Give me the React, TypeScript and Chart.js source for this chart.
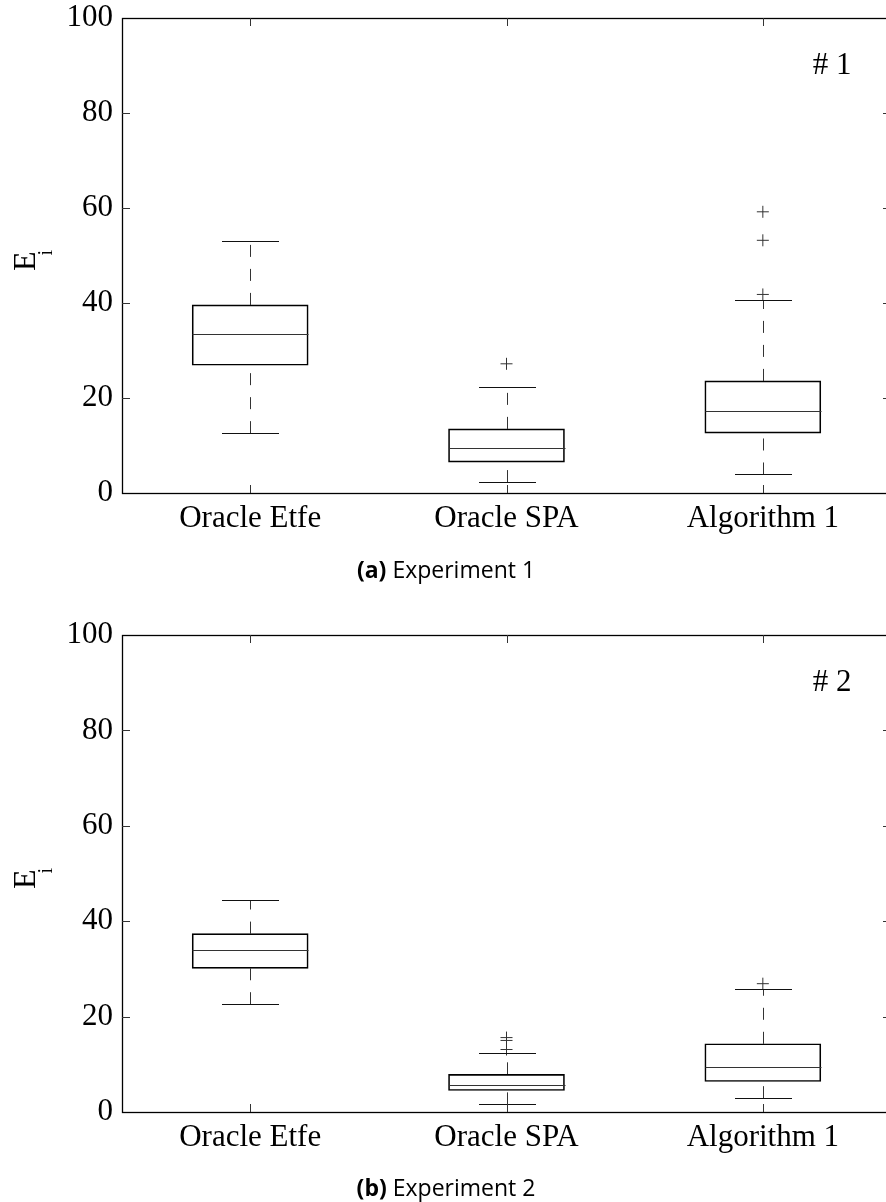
import React, { useEffect, useRef } from 'react';
import { Chart, registerables } from 'chart.js';

Chart.register(...registerables);

// ---- data ----
const categories = ['Oracle Etfe', 'Oracle SPA', 'Algorithm 1'];
const yTicks = [0, 20, 40, 60, 80, 100];

const exp1Low = [12.6, 2.3, 3.9];
const exp1Q1 = [26.9, 6.5, 12.6];
const exp1Median = [33.5, 9.4, 17.3];
const exp1Q3 = [39.6, 13.5, 23.6];
const exp1High = [53.0, 22.4, 40.6];
const exp1Outliers: number[][] = [[], [27.2], [41.8, 53.2, 59.2]];

const exp2Low = [22.6, 1.6, 2.9];
const exp2Q1 = [30.1, 4.5, 6.4];
const exp2Median = [34.0, 5.7, 9.5];
const exp2Q3 = [37.4, 7.9, 14.3];
const exp2High = [44.4, 12.4, 25.7];
const exp2Outliers: number[][] = [[], [13.1, 15.0, 15.6], [26.9]];

const SERIF = '"Liberation Serif", "Times New Roman", serif';

type PanelProps = {
  top: number;
  canvasHeight: number;
  plotBottom: number;
  low: number[];
  q1: number[];
  med: number[];
  q3: number[];
  high: number[];
  outliers: number[][];
  tag: string;
};

function BoxPanel(props: PanelProps) {
  const ref = useRef<HTMLCanvasElement>(null);
  useEffect(() => {
    const { low, q1, med, q3, high, outliers, tag, canvasHeight, plotBottom } = props;
    const canvas = ref.current as HTMLCanvasElement;
    const outlierPoints: { x: string; y: number }[] = [];
    outliers.forEach((arr, i) => arr.forEach((v) => outlierPoints.push({ x: categories[i], y: v })));

    const BOX_HALF = 58;
    const CAP_HALF = 28.5;
    const TICK = 8;

    const decor = {
      id: 'decor',
      beforeDatasetsDraw(chart: any) {
        const { ctx, scales } = chart;
        const xs = scales.x;
        const ys = scales.y;
        ctx.save();
        ctx.lineWidth = 1;
        ctx.strokeStyle = '#333';
        ctx.setLineDash([12, 12]);
        categories.forEach((_, i) => {
          const x = Math.round(xs.getPixelForValue(i)) + 0.5;
          ctx.beginPath();
          ctx.moveTo(x, ys.getPixelForValue(low[i]));
          ctx.lineTo(x, ys.getPixelForValue(q1[i]));
          ctx.stroke();
          ctx.beginPath();
          ctx.moveTo(x, ys.getPixelForValue(q3[i]));
          ctx.lineTo(x, ys.getPixelForValue(high[i]));
          ctx.stroke();
        });
        ctx.restore();
      },
      afterDatasetsDraw(chart: any) {
        const { ctx, scales } = chart;
        const xs = scales.x;
        const ys = scales.y;
        ctx.save();
        ctx.lineWidth = 1;
        categories.forEach((_, i) => {
          const x = Math.round(xs.getPixelForValue(i)) + 0.5;
          const yl = Math.round(ys.getPixelForValue(low[i])) + 0.5;
          const yh = Math.round(ys.getPixelForValue(high[i])) + 0.5;
          const ym = Math.round(ys.getPixelForValue(med[i])) + 0.5;
          ctx.strokeStyle = '#111';
          ctx.beginPath();
          ctx.moveTo(x - CAP_HALF, yl);
          ctx.lineTo(x + CAP_HALF, yl);
          ctx.moveTo(x - CAP_HALF, yh);
          ctx.lineTo(x + CAP_HALF, yh);
          ctx.stroke();
          ctx.strokeStyle = '#333';
          ctx.beginPath();
          ctx.moveTo(x - BOX_HALF, ym);
          ctx.lineTo(x + BOX_HALF, ym);
          ctx.stroke();
        });
        ctx.restore();
      },
      afterDraw(chart: any) {
        const { ctx, chartArea: a, scales } = chart;
        const xs = scales.x;
        const ys = scales.y;
        ctx.save();
        // frame
        ctx.strokeStyle = '#000';
        ctx.lineWidth = 1.3;
        ctx.strokeRect(Math.round(a.left) + 0.5, Math.round(a.top) + 0.5, Math.round(a.right - a.left), Math.round(a.bottom - a.top));
        // inward ticks
        ctx.lineWidth = 1;
        ctx.strokeStyle = '#333';
        ctx.beginPath();
        yTicks.forEach((v) => {
          if (v === yTicks[0] || v === yTicks[yTicks.length - 1]) return;
          const y = Math.round(ys.getPixelForValue(v)) + 0.5;
          ctx.moveTo(a.left, y);
          ctx.lineTo(a.left + TICK, y);
          ctx.moveTo(a.right, y);
          ctx.lineTo(a.right - TICK, y);
        });
        categories.forEach((_, i) => {
          const x = Math.round(xs.getPixelForValue(i)) + 0.5;
          ctx.moveTo(x, a.bottom);
          ctx.lineTo(x, a.bottom - TICK);
          ctx.moveTo(x, a.top);
          ctx.lineTo(x, a.top + TICK);
        });
        ctx.stroke();
        // tag
        ctx.fillStyle = '#000';
        ctx.font = '31px ' + SERIF;
        ctx.textAlign = 'center';
        ctx.textBaseline = 'middle';
        ctx.fillText(tag, a.right - 59, ys.getPixelForValue(90));
        // y title E_i
        const cy = (a.top + a.bottom) / 2 + 2;
        ctx.translate(35, cy);
        ctx.rotate(-Math.PI / 2);
        ctx.textAlign = 'left';
        ctx.textBaseline = 'alphabetic';
        ctx.font = '32px ' + SERIF;
        ctx.fillText('E', -13.5, 0);
        ctx.font = '20px ' + SERIF;
        ctx.fillText('i', 2, 17);
        ctx.restore();
      },
    };

    const chart = new Chart(canvas, {
      type: 'bar',
      data: {
        labels: categories,
        datasets: [
          {
            type: 'bar',
            data: categories.map((_, i) => [q1[i], q3[i]]) as any,
            backgroundColor: 'rgba(255,255,255,0)',
            borderColor: '#000',
            borderWidth: 1,
            borderSkipped: false,
            barThickness: 116,
          } as any,
          {
            type: 'scatter',
            data: outlierPoints as any,
            pointStyle: 'cross',
            pointRadius: 6,
            pointBorderColor: '#333',
            pointBackgroundColor: '#333',
            pointBorderWidth: 1,
            showLine: false,
          } as any,
        ],
      },
      options: {
        responsive: false,
        animation: false,
        events: [],
        layout: { padding: { top: 18, left: 0, right: 9, bottom: 0 } },
        plugins: { legend: { display: false }, tooltip: { enabled: false } },
        scales: {
          x: {
            type: 'category',
            offset: true,
            grid: { display: false, drawTicks: false },
            border: { display: false },
            ticks: {
              color: '#000',
              font: { family: SERIF, size: 31, lineHeight: 1 },
              padding: 10,
              maxRotation: 0,
              autoSkip: false,
            },
            afterFit: (s: any) => {
              s.height = canvasHeight - plotBottom;
              s.paddingLeft = 0;
              s.paddingRight = 0;
            },
          },
          y: {
            type: 'linear',
            min: 0,
            max: 100,
            grid: { display: false, drawTicks: false },
            border: { display: false },
            ticks: {
              color: '#000',
              font: { family: SERIF, size: 31, lineHeight: 1 },
              padding: 9,
            },
            afterBuildTicks: (s: any) => {
              s.ticks = yTicks.map((v) => ({ value: v }));
            },
            afterFit: (s: any) => {
              s.width = 122;
              s.paddingTop = 0;
              s.paddingBottom = 0;
            },
          },
        },
      } as any,
      plugins: [decor],
    });
    return () => chart.destroy();
  }, []);

  return (
    <canvas
      ref={ref}
      width={900}
      height={props.canvasHeight}
      style={{ position: 'absolute', left: 0, top: props.top, width: 900, height: props.canvasHeight }}
    />
  );
}

function Caption({ y, label, text }: { y: number; label: string; text: string }) {
  return (
    <div
      style={{
        position: 'absolute',
        left: 0,
        top: y - 15,
        width: 892,
        height: 30,
        lineHeight: '30px',
        textAlign: 'center',
        fontFamily: '"Open Sans", "Noto Sans", sans-serif',
        fontSize: 23,
        color: '#000',
        whiteSpace: 'nowrap',
      }}
    >
      <b>{label}</b> {text}
    </div>
  );
}

export default function App() {
  return (
    <div
      style={{
        position: 'absolute',
        left: 0,
        top: 0,
        width: 886,
        height: 1202,
        overflow: 'hidden',
        background: '#fff',
      }}
    >
      <BoxPanel
        top={0}
        canvasHeight={600}
        plotBottom={493}
        low={exp1Low}
        q1={exp1Q1}
        med={exp1Median}
        q3={exp1Q3}
        high={exp1High}
        outliers={exp1Outliers}
        tag="# 1"
      />
      <Caption y={569} label="(a)" text="Experiment 1" />
      <BoxPanel
        top={617}
        canvasHeight={585}
        plotBottom={495}
        low={exp2Low}
        q1={exp2Q1}
        med={exp2Median}
        q3={exp2Q3}
        high={exp2High}
        outliers={exp2Outliers}
        tag="# 2"
      />
      <Caption y={1187} label="(b)" text="Experiment 2" />
    </div>
  );
}
